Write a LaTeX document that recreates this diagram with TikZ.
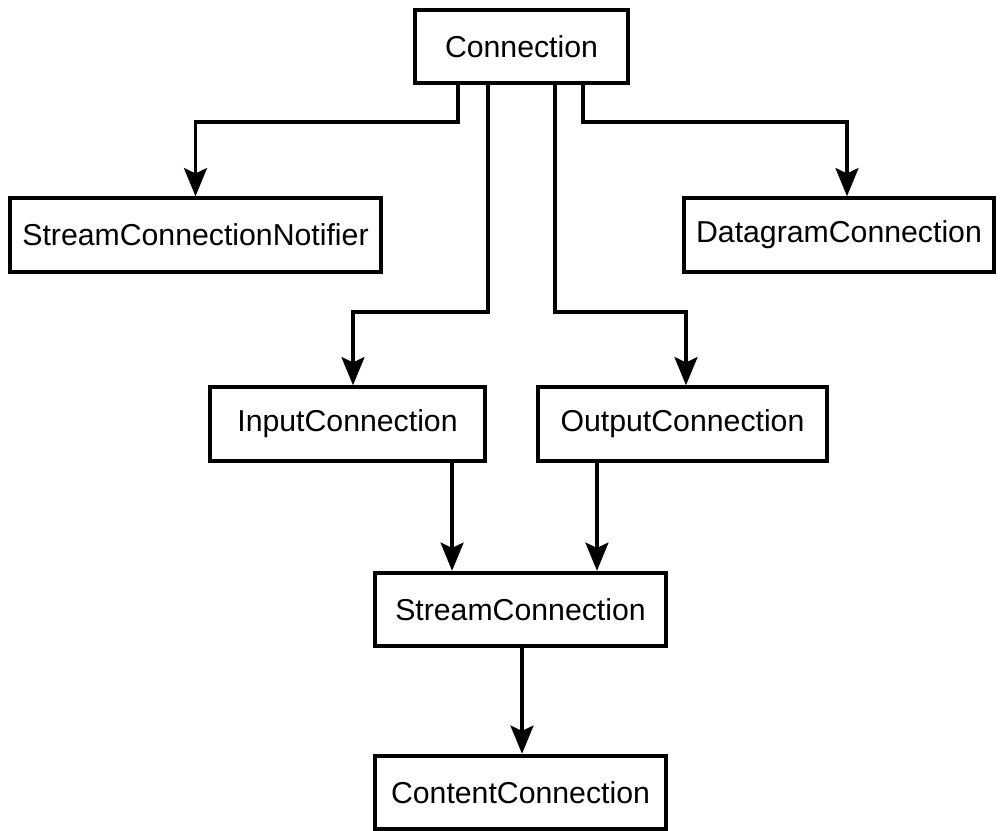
\documentclass[tikz,border=0pt]{standalone}
\usepackage{fontspec}
\setmainfont{Liberation Sans}
\usepackage{tikz}
\usetikzlibrary{arrows.meta}

\begin{document}
\begin{tikzpicture}[x=0.01cm,y=-0.01cm]
\tikzstyle{every node}+=[inner sep=0pt, font=\fontsize{8.6}{10}\selectfont]
\tikzstyle{box}=[draw=black, line width=1.1pt, rectangle, minimum height=0.735cm]
\tikzstyle{arrow}=[black, line width=1.1pt, -{Stealth[length=8pt,width=6.5pt,inset=1.5pt]}]
\useasboundingbox (0,0) rectangle (1000,830);
\node [box, minimum width=2.13cm] (conn) at (521.5,46.5) {Connection};
\node [box, minimum width=3.71cm] (notifier) at (195.5,235) {StreamConnectionNotifier};
\node [box, minimum width=3.10cm] (datagram) at (839,235) {DatagramConnection};
\node [box, minimum width=2.75cm] (input) at (347.5,424) {InputConnection};
\node [box, minimum width=2.89cm] (output) at (682.5,424) {OutputConnection};
\node [box, minimum width=2.91cm] (stream) at (520.5,609.5) {StreamConnection};
\node [box, minimum width=2.91cm] (content) at (520.5,792.5) {ContentConnection};
\draw [arrow] ([xshift=-6.35mm]conn.south) |- (notifier.north |- 0,122) -- (notifier.north);
\draw [arrow] ([xshift=6.15mm]conn.south) |- ([xshift=0.8mm]datagram.north |- 0,122) -- ([xshift=0.8mm]datagram.north);
\draw [arrow] ([xshift=-3.35mm]conn.south) |- ([xshift=0.55mm]input.north |- 0,312) -- ([xshift=0.55mm]input.north);
\draw [arrow] ([xshift=3.35mm]conn.south) |- ([xshift=0.35mm]output.north |- 0,312) -- ([xshift=0.35mm]output.north);
\draw [arrow] ([xshift=10.45mm]input.south) -- ([xshift=10.45mm]input.south |- stream.north);
\draw [arrow] ([xshift=-8.55mm]output.south) -- ([xshift=-8.55mm]output.south |- stream.north);
\draw [arrow] ([xshift=0.15mm]stream.south) -- ([xshift=0.15mm]content.north);
\end{tikzpicture}
\end{document}
